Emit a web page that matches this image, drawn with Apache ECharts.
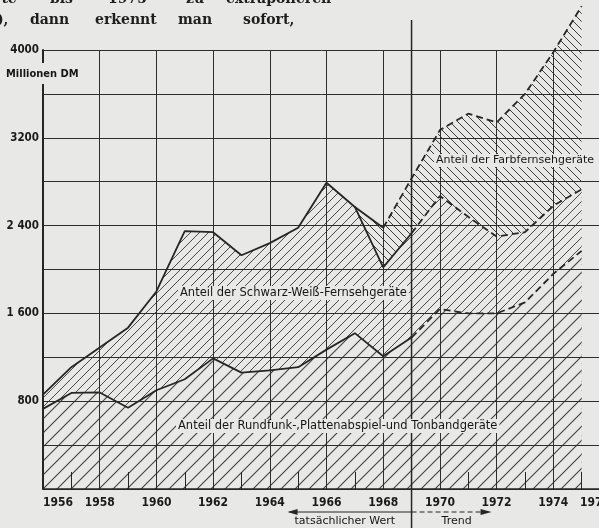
<!DOCTYPE html>
<html><head><meta charset="utf-8">
<script src="https://cdn.jsdelivr.net/npm/echarts@6/dist/echarts.min.js"></script>
<style>html,body{margin:0;padding:0;background:#e8e8e6;overflow:hidden}#c{width:599px;height:528px;}</style>
</head><body><div id="c"></div>
<script>
// ---- data (Millionen DM) ----
const years = [1956,1957,1958,1959,1960,1961,1962,1963,1964,1965,1966,1967,1968,1969,1970,1971,1972,1973,1974,1975];
// upper edge of "Rundfunk-, Plattenabspiel- und Tonbandgeräte"
const radioLine = [730,875,880,740,900,1000,1190,1060,1080,1110,1270,1420,1210,1380,1640,1600,1600,1700,1960,2170];
// upper edge of "Schwarz-Weiß-Fernsehgeräte" (cumulative)
const blackWhiteLine = [860,1110,1290,1470,1800,2350,2340,2130,2240,2380,2790,2570,2020,2330,2670,2480,2300,2340,2580,2730];
// upper edge of "Farbfernsehgeräte" (cumulative total)
const colorTotalLine = [null,null,null,null,null,null,null,null,null,null,null,2570,2380,2830,3270,3420,3340,3600,3980,4400];
const lastActualYear = 1969;   // tatsächlicher Wert | Trend
const colorStartSolidEnd = 1968;
const yTickLabels = {800:'800',1600:'1 600',2400:'2 400',3200:'3200',4000:'4000'};
const xTickLabels = {1956:'1956',1958:'1958',1960:'1960',1962:'1962',1964:'1964',1966:'1966',1968:'1968',1970:'1970',1972:'1972',1974:'1974',1976:'1976'};

const BG = '#e8e8e6', INK = '#262626';
function hatch(size, dir, color, lw) {
  const c = document.createElement('canvas'); c.width = c.height = size;
  const g = c.getContext('2d');
  g.fillStyle = BG; g.fillRect(0,0,size,size);
  g.strokeStyle = color; g.lineWidth = lw; g.beginPath();
  if (dir > 0) { g.moveTo(0,size); g.lineTo(size,0); g.moveTo(-1,1); g.lineTo(1,-1); g.moveTo(size-1,size+1); g.lineTo(size+1,size-1); }
  else { g.moveTo(0,0); g.lineTo(size,size); g.moveTo(-1,size-1); g.lineTo(1,size+1); g.moveTo(size-1,-1); g.lineTo(size+1,1); }
  g.stroke();
  return { image: c, repeat: 'repeat' };
}
function pairs(arr, from, to) {
  const out = [];
  years.forEach((y,i) => { if (y >= from && y <= to && arr[i] != null) out.push([y, arr[i]]); });
  return out;
}
function area(arr, pattern) {
  return { type:'line', data: pairs(arr, 1956, 1975), showSymbol:false, symbol:'none', clip:false, z:1,
    lineStyle:{width:0}, areaStyle:{color:pattern, opacity:1}, silent:true };
}
function line(arr, from, to, dashed) {
  return { type:'line', data: pairs(arr, from, to), showSymbol:false, symbol:'none', clip:false, z:5,
    lineStyle:{color:INK, width:1.8, type: dashed ? [7,4] : 'solid'}, silent:true };
}

const chart = echarts.init(document.getElementById('c'), null, {renderer:'canvas'});
const axisFont = "'Liberation Sans Narrow','DejaVu Sans Condensed','Roboto',sans-serif";
chart.setOption({
  backgroundColor: BG,
  animation: false,
  grid: { left: 43, width: 567, top: 50, bottom: 39, outerBoundsMode: 'none', containLabel: false },
  xAxis: {
    type:'value', min:1956, max:1976, interval:2, z:3,
    axisLine:{show:true, lineStyle:{color:INK, width:1.5}},
    axisTick:{show:false, inside:true},
    minorTick:{show:true, splitNumber:2, length:17, lineStyle:{color:INK, width:1}},
    splitLine:{show:true, lineStyle:{color:'#2e2e2e', width:1}},
    axisLabel:{ formatter: v => xTickLabels[v] || '', color:'#1a1a1a', fontFamily:axisFont, fontWeight:'bold', fontSize:12, margin:8, alignMinLabel:'left', alignMaxLabel:'right', hideOverlap:false }
  },
  yAxis: {
    type:'value', min:0, max:4000, interval:400, z:3,
    axisLine:{show:true, lineStyle:{color:INK, width:2}},
    axisTick:{show:false},
    splitLine:{show:true, lineStyle:{color:'#2e2e2e', width:1}},
    axisLabel:{ formatter: v => yTickLabels[v] || '', color:'#1a1a1a', fontFamily:"'DejaVu Sans Condensed','DejaVu Sans','Roboto',sans-serif", fontWeight:'bold', fontSize:11.5, margin:4 }
  },
  series: [
    area(colorTotalLine, hatch(8, -1, '#3c3c3c', 1)),
    area(blackWhiteLine, hatch(9, 1, '#4a4a4a', 1)),
    area(radioLine, hatch(14, 1, '#444444', 1.15)),
    line(radioLine, 1956, lastActualYear, false),
    line(radioLine, lastActualYear, 1975, true),
    line(blackWhiteLine, 1956, lastActualYear, false),
    line(blackWhiteLine, lastActualYear, 1975, true),
    line(colorTotalLine, 1967, colorStartSolidEnd, false),
    line(colorTotalLine, colorStartSolidEnd, 1975, true)
  ]
});

// annotations
const dx = chart.convertToPixel({gridIndex:0}, [lastActualYear, 0])[0];
const lblFont = "'DejaVu Sans','Roboto',sans-serif";
const condFont = "'DejaVu Sans Condensed','Liberation Sans Narrow','Roboto',sans-serif";
function note(text, left, top, size) {
  return { type:'text', left, top, z:20, style:{ text, fill:'#161616', font: size + "px " + lblFont, backgroundColor: BG, padding:[1,2] } };
}
const serif = "bold 14px 'DejaVu Serif','Liberation Serif',serif";
function word(text, x, y) { return { type:'text', x, y, z:20, style:{ text, fill:'#1e1e1e', font: serif, textVerticalAlign:'bottom' } }; }
chart.setOption({
  graphic: [
    // page text above the figure
    word('rte', -6, 6), word('bis', 50, 6), word('1975', 108, 6), word('zu', 186, 6), word('extrapolieren', 226, 6),
    word('),', -3, 27), word('dann', 30, 27), word('erkennt', 95, 27), word('man', 178, 27), word('sofort,', 243, 27),
    // axis name
    { type:'rect', z:15, shape:{x:40, y:63, width:6, height:21}, style:{fill:BG} },
    { type:'text', left:6, top:69, z:20, style:{ text:'Millionen DM', fill:'#161616', font:"bold 11px " + condFont } },
    // divider actual / trend
    { type:'line', z:20, shape:{x1:dx, y1:20, x2:dx, y2:528}, style:{stroke:INK, lineWidth:1.5} },
    { type:'line', z:20, shape:{x1:dx-122, y1:512, x2:dx, y2:512}, style:{stroke:INK, lineWidth:1.2} },
    { type:'polygon', z:20, shape:{points:[[dx-124,512],[dx-114,509],[dx-114,515]]}, style:{fill:INK} },
    { type:'line', z:20, shape:{x1:dx, y1:512, x2:dx+70, y2:512}, style:{stroke:INK, lineWidth:1.2, lineDash:[5,3]} },
    { type:'polygon', z:20, shape:{points:[[dx+80,512],[dx+69,509],[dx+69,515]]}, style:{fill:INK} },
    { type:'text', left:dx-117, top:516, z:20, style:{ text:'tatsächlicher Wert', fill:'#161616', font:"11px " + lblFont } },
    { type:'text', left:dx+30, top:516, z:20, style:{ text:'Trend', fill:'#161616', font:"11px " + lblFont } },
    // region labels
    note('Anteil der Farbfernsehgeräte', 434, 154, 11),
    note('Anteil der Schwarz-Weiß-Fernsehgeräte', 178, 286, 11.5),
    note('Anteil der Rundfunk-,Plattenabspiel-und Tonbandgeräte', 176, 419, 11.5)
  ]
});
</script>
</body></html>
